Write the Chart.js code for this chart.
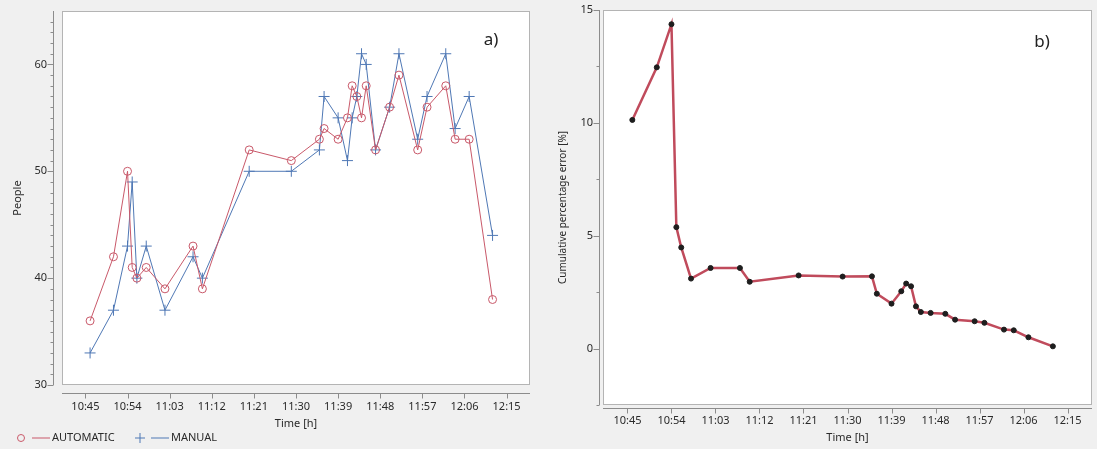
<!DOCTYPE html>
<html>
<head>
<meta charset="utf-8">
<script src="https://cdn.jsdelivr.net/npm/chart.js@4"></script>
<style>
  html, body { margin: 0; padding: 0; background: #f0f0f0; }
  body { width: 1097px; height: 449px; position: relative; overflow: hidden; }
  #left { position: absolute; left: 0; top: 0; }
  #right { position: absolute; left: 548px; top: 0; }
</style>
</head>
<body>
<canvas id="left" width="545" height="449"></canvas>
<canvas id="right" width="549" height="449"></canvas>
<script>
// sample times (h:mm) shared by both panels
const sampleTimes = ["10:46", "10:51", "10:54", "10:55", "10:56", "10:58", "11:02", "11:08", "11:10", "11:20",
  "11:29", "11:35", "11:36", "11:39", "11:41", "11:42", "11:43", "11:44", "11:45", "11:47",
  "11:50", "11:52", "11:56", "11:58", "12:02", "12:04", "12:07", "12:12"];
const automaticPeople = [36, 42, 50, 41, 40, 41, 39, 43, 39, 52, 51, 53, 54, 53, 55, 58, 57, 55, 58, 52, 56, 59, 52, 56, 58, 53, 53, 38];
const manualPeople = [33, 37, 43, 49, 40, 43, 37, 42, 40, 50, 50, 52, 57, 55, 51, 55, 57, 61, 60, 52, 56, 61, 53, 57, 61, 54, 57, 44];
const cumulativeError = [10.13, 12.46, 14.37, 5.38, 4.48, 3.10, 3.57, 3.57, 2.96, 3.24, 3.19, 3.20, 2.43, 1.99, 2.54,
  2.88, 2.76, 1.87, 1.62, 1.58, 1.54, 1.28, 1.21, 1.14, 0.84, 0.81, 0.50, 0.10];

const timeTickLabels = ["10:45", "10:54", "11:03", "11:12", "11:21", "11:30", "11:39", "11:48", "11:57", "12:06", "12:15"];
const peopleTicks = [30, 40, 50, 60];
const peopleMinorTicks = [31, 32, 33, 34, 35, 36, 37, 38, 39, 41, 42, 43, 44, 45, 46, 47, 48, 49,
  51, 52, 53, 54, 55, 56, 57, 58, 59, 61, 62, 63, 64];
const errorTicks = [0, 5, 10, 15];
const errorMinorTicks = [-2.5, 2.5, 7.5, 12.5];

Chart.defaults.font.family = "'Noto Sans', sans-serif";
Chart.defaults.font.size = 11;
Chart.defaults.color = "#2a2a2a";
Chart.defaults.animation = false;

function toMinutes(s) {
  const [h, m] = s.split(":").map(Number);
  return h * 60 + m;
}

function points(values) {
  return sampleTimes.map((t, i) => ({ x: toMinutes(t), y: values[i] }));
}

// white plot box, detached axis lines with ticks, panel letter
const panelFrame = {
  id: "panelFrame",
  beforeDraw(chart, args, opts) {
    const { ctx, chartArea: a } = chart;
    ctx.save();
    ctx.fillStyle = "#fff";
    ctx.fillRect(a.left, a.top, a.width, a.height);
    ctx.strokeStyle = "#b4b4b4";
    ctx.lineWidth = 1;
    ctx.strokeRect(a.left + 0.5, a.top + 0.5, a.width - 1, a.height - 1);
    ctx.restore();
  },
  afterDraw(chart, args, opts) {
    const { ctx, chartArea: a, scales } = chart;
    const ax = Math.round(a.left - opts.gap) - 0.5;
    const ay = Math.round(a.bottom + opts.gap) + 0.5;
    ctx.save();
    ctx.strokeStyle = "#8c8c8c";
    ctx.lineWidth = 1;
    ctx.beginPath();
    ctx.moveTo(ax, a.top);
    ctx.lineTo(ax, a.bottom);
    ctx.moveTo(a.left, ay);
    ctx.lineTo(a.right, ay);
    scales.y.ticks.forEach((t) => {
      const y = Math.round(scales.y.getPixelForValue(t.value)) + 0.5;
      ctx.moveTo(ax - 6, y);
      ctx.lineTo(ax, y);
    });
    opts.yMinor.forEach((v) => {
      const y = Math.round(scales.y.getPixelForValue(v)) + 0.5;
      ctx.moveTo(ax - 3, y);
      ctx.lineTo(ax, y);
    });
    scales.x.ticks.forEach((t) => {
      const x = Math.round(scales.x.getPixelForValue(t.value)) + 0.5;
      ctx.moveTo(x, ay);
      ctx.lineTo(x, ay + 5);
    });
    ctx.stroke();

    ctx.fillStyle = "#222";
    ctx.font = "17px 'Noto Sans', sans-serif";
    ctx.textAlign = "center";
    ctx.textBaseline = "middle";
    ctx.fillText(opts.letter, a.right - opts.letterDx, a.top + opts.letterDy);
    ctx.restore();
  },
};

// JMP style legend: marker + line + name
const markerLegend = {
  id: "markerLegend",
  afterDraw(chart) {
    const { ctx } = chart;
    const y = chart.height - 11;
    let x = 21;
    ctx.save();
    ctx.lineWidth = 1;
    ctx.font = "11px 'Noto Sans', sans-serif";
    ctx.textBaseline = "middle";
    chart.data.datasets.forEach((ds) => {
      ctx.strokeStyle = ds.borderColor;
      ctx.beginPath();
      if (ds.pointStyle === "circle") {
        ctx.arc(x, y, 3.5, 0, Math.PI * 2);
      } else {
        ctx.moveTo(x - 5, y); ctx.lineTo(x + 5, y);
        ctx.moveTo(x, y - 5); ctx.lineTo(x, y + 5);
      }
      ctx.moveTo(x + 11, y);
      ctx.lineTo(x + 29, y);
      ctx.stroke();
      ctx.fillStyle = "#2a2a2a";
      ctx.fillText(ds.label, x + 31, y);
      x += 119;
    });
    ctx.restore();
  },
};

function timeAxis(height, padding, titlePad) {
  return {
    type: "linear",
    min: 640,
    max: 740,
    afterBuildTicks: (scale) => {
      scale.ticks = timeTickLabels.map((l) => ({ value: toMinutes(l) }));
    },
    afterFit: (scale) => {
      scale.height = height;
      scale.paddingLeft = 0;
      scale.paddingRight = 0;
    },
    grid: { display: false, drawTicks: false },
    border: { display: false },
    ticks: {
      autoSkip: false,
      maxRotation: 0,
      padding: padding,
      callback: (v, i) => timeTickLabels[i],
    },
    title: { display: true, text: "Time [h]", padding: { top: 0, bottom: titlePad } },
  };
}

function valueAxis(min, max, majors, width, padding, title) {
  return {
    min: min,
    max: max,
    afterBuildTicks: (scale) => {
      scale.ticks = majors.map((v) => ({ value: v }));
    },
    afterFit: (scale) => {
      scale.width = width;
      scale.paddingTop = 0;
      scale.paddingBottom = 0;
    },
    grid: { display: false, drawTicks: false },
    border: { display: false },
    ticks: { padding: padding },
    title: title,
  };
}

new Chart(document.getElementById("left"), {
  type: "line",
  data: {
    datasets: [
      {
        label: "AUTOMATIC",
        data: points(automaticPeople),
        borderColor: "#c9596a",
        borderWidth: 1,
        pointStyle: "circle",
        pointRadius: 4,
        pointBorderWidth: 1,
        pointBackgroundColor: "rgba(0,0,0,0)",
        pointBorderColor: "#c9596a",
        tension: 0,
      },
      {
        label: "MANUAL",
        data: points(manualPeople),
        borderColor: "#4f78b5",
        borderWidth: 1,
        pointStyle: "cross",
        pointRadius: 5.5,
        pointBorderWidth: 1,
        pointBorderColor: "#4f78b5",
        tension: 0,
      },
    ],
  },
  options: {
    responsive: false,
    layout: { padding: { top: 11, right: 15, left: 0, bottom: 0 } },
    scales: {
      x: timeAxis(64, 15, 19),
      y: valueAxis(30, 65, peopleTicks, 62, 15,
        { display: true, text: "People", padding: { top: 11, bottom: 0 } }),
    },
    plugins: {
      legend: { display: false },
      tooltip: { enabled: false },
      panelFrame: { gap: 8, yMinor: peopleMinorTicks, letter: "a)", letterDx: 39, letterDy: 29 },
    },
  },
  plugins: [panelFrame, markerLegend],
});

new Chart(document.getElementById("right"), {
  type: "line",
  data: {
    datasets: [
      {
        label: "Cumulative percentage error",
        data: points(cumulativeError),
        borderColor: "#c04b5c",
        borderWidth: 2.5,
        pointStyle: "circle",
        pointRadius: 2.5,
        pointBorderWidth: 1,
        pointBackgroundColor: "#1e1e1e",
        pointBorderColor: "#1e1e1e",
        tension: 0,
      },
    ],
  },
  options: {
    responsive: false,
    layout: { padding: { top: 10, right: 1, left: 0, bottom: 0 } },
    scales: {
      x: timeAxis(44, 9, 5),
      y: valueAxis(-2.5, 15, errorTicks, 55, 10, {
        display: true,
        text: "Cumulative percentage error [%]",
        font: { size: 10 },
        padding: { top: 9, bottom: 0 },
      }),
    },
    plugins: {
      legend: { display: false },
      tooltip: { enabled: false },
      panelFrame: { gap: 3, yMinor: errorMinorTicks, letter: "b)", letterDx: 50, letterDy: 32 },
    },
  },
  plugins: [panelFrame],
});
</script>
</body>
</html>
